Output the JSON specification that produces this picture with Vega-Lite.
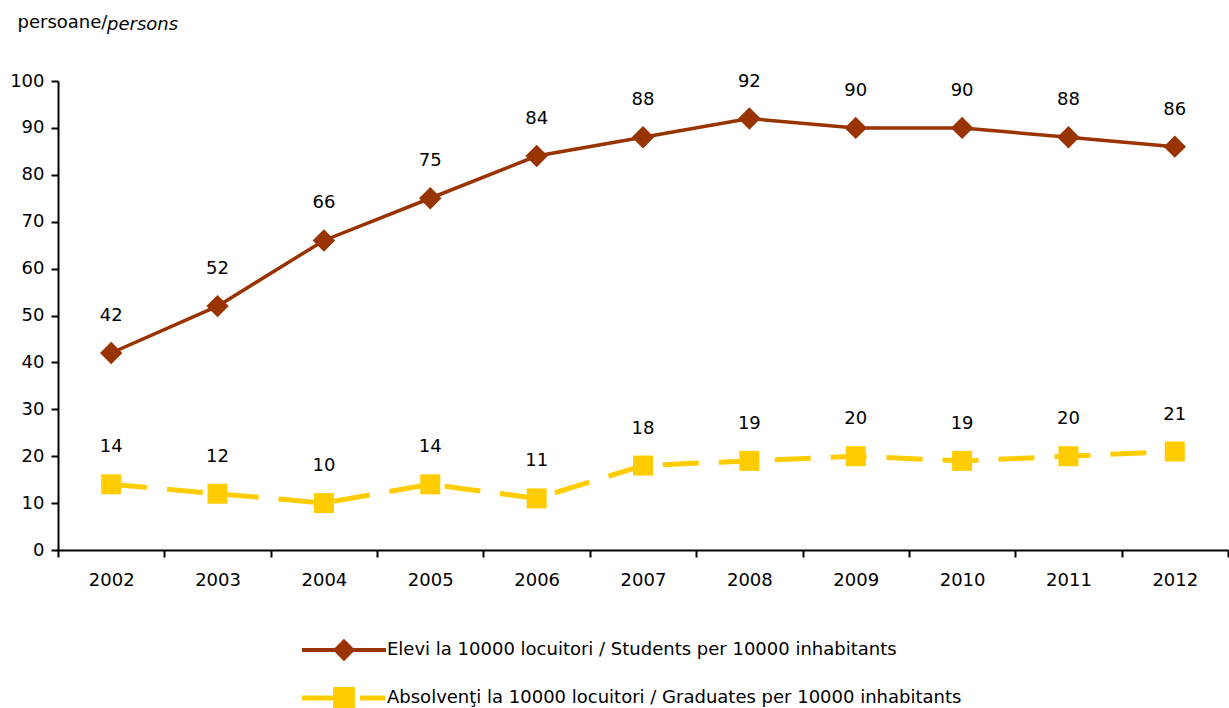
{
  "$schema": "https://vega.github.io/schema/vega-lite/v6.json",
  "width": 1170,
  "height": 469,
  "autosize": "none",
  "padding": {"left": 58, "top": 81, "right": 1, "bottom": 158},
  "background": "white",
  "config": {
    "font": "DejaVu Sans",
    "view": {"stroke": null},
    "axis": {"labelFont": "DejaVu Sans", "labelFontSize": 18, "labelColor": "black", "domainColor": "black", "tickColor": "black", "domainWidth": 2, "tickWidth": 2, "grid": false}
  },
  "title": {"text": "persons", "fontStyle": "italic", "fontWeight": "normal", "fontSize": 18, "font": "DejaVu Sans", "anchor": "start", "frame": "group", "dx": 49, "offset": 0, "dy": 35, "baseline": "alphabetic", "color": "black"},
  "data": {
    "values": [
      {"year": "2002", "series": "Elevi la 10000 locuitori / Students per 10000 inhabitants", "value": 42},
      {"year": "2003", "series": "Elevi la 10000 locuitori / Students per 10000 inhabitants", "value": 52},
      {"year": "2004", "series": "Elevi la 10000 locuitori / Students per 10000 inhabitants", "value": 66},
      {"year": "2005", "series": "Elevi la 10000 locuitori / Students per 10000 inhabitants", "value": 75},
      {"year": "2006", "series": "Elevi la 10000 locuitori / Students per 10000 inhabitants", "value": 84},
      {"year": "2007", "series": "Elevi la 10000 locuitori / Students per 10000 inhabitants", "value": 88},
      {"year": "2008", "series": "Elevi la 10000 locuitori / Students per 10000 inhabitants", "value": 92},
      {"year": "2009", "series": "Elevi la 10000 locuitori / Students per 10000 inhabitants", "value": 90},
      {"year": "2010", "series": "Elevi la 10000 locuitori / Students per 10000 inhabitants", "value": 90},
      {"year": "2011", "series": "Elevi la 10000 locuitori / Students per 10000 inhabitants", "value": 88},
      {"year": "2012", "series": "Elevi la 10000 locuitori / Students per 10000 inhabitants", "value": 86},
      {"year": "2002", "series": "Absolvenţi la 10000 locuitori / Graduates per 10000 inhabitants", "value": 14},
      {"year": "2003", "series": "Absolvenţi la 10000 locuitori / Graduates per 10000 inhabitants", "value": 12},
      {"year": "2004", "series": "Absolvenţi la 10000 locuitori / Graduates per 10000 inhabitants", "value": 10},
      {"year": "2005", "series": "Absolvenţi la 10000 locuitori / Graduates per 10000 inhabitants", "value": 14},
      {"year": "2006", "series": "Absolvenţi la 10000 locuitori / Graduates per 10000 inhabitants", "value": 11},
      {"year": "2007", "series": "Absolvenţi la 10000 locuitori / Graduates per 10000 inhabitants", "value": 18},
      {"year": "2008", "series": "Absolvenţi la 10000 locuitori / Graduates per 10000 inhabitants", "value": 19},
      {"year": "2009", "series": "Absolvenţi la 10000 locuitori / Graduates per 10000 inhabitants", "value": 20},
      {"year": "2010", "series": "Absolvenţi la 10000 locuitori / Graduates per 10000 inhabitants", "value": 19},
      {"year": "2011", "series": "Absolvenţi la 10000 locuitori / Graduates per 10000 inhabitants", "value": 20},
      {"year": "2012", "series": "Absolvenţi la 10000 locuitori / Graduates per 10000 inhabitants", "value": 21}
    ]
  },
  "encoding": {
    "x": {
      "field": "year", "type": "ordinal",
      "scale": {"type": "band", "paddingInner": 0, "paddingOuter": 0},
      "axis": {"title": null, "labelAngle": 0, "tickBand": "extent", "tickSize": 7, "labelPadding": 14, "domainWidth": 2}
    },
    "y": {
      "field": "value", "type": "quantitative",
      "scale": {"domain": [0, 100], "nice": false},
      "axis": {"values": [0, 10, 20, 30, 40, 50, 60, 70, 80, 90, 100], "tickSize": 7, "labelPadding": 7,
        "title": "persoane/", "titleAngle": 0, "titleX": -41, "titleY": -54, "titleAlign": "left", "titleBaseline": "alphabetic",
        "titleFontWeight": "normal", "titleFontSize": 18, "titleFont": "DejaVu Sans", "titleColor": "black"}
    }
  },
  "layer": [
    {
      "transform": [{"filter": "datum.series === 'Elevi la 10000 locuitori / Students per 10000 inhabitants'"}],
      "mark": {"type": "line", "strokeWidth": 3.5},
      "encoding": {
        "color": {
          "field": "series", "type": "nominal",
          "scale": {
            "domain": ["Elevi la 10000 locuitori / Students per 10000 inhabitants", "Absolvenţi la 10000 locuitori / Graduates per 10000 inhabitants"],
            "range": ["#993300", "#FFCC00"]
          },
          "legend": {
            "orient": "none", "legendX": 245, "legendY": 560, "direction": "vertical", "title": null,
            "symbolSize": 400, "symbolOffset": 32, "labelOffset": 34, "rowPadding": 12,
            "labelFontSize": 18, "labelFont": "DejaVu Sans", "labelColor": "black", "labelLimit": 0,
            "encode": {
              "symbols": {
                "update": {
                  "size": {"value": 7056},
                  "shape": {"signal": "datum.index === 0 ? 'M-1,0H1M0,-0.2L0.2,0L0,0.2L-0.2,0Z' : 'M-1,0H-0.2M-0.2,-0.2H0.2V0.2H-0.2ZM0.38,0H0.98'"},
                  "fill": {"signal": "datum.index === 0 ? '#993300' : '#FFCC00'"},
                  "stroke": {"signal": "datum.index === 0 ? '#993300' : '#FFCC00'"},
                  "strokeWidth": {"signal": "datum.index === 0 ? 4 : 5"},
                  "opacity": {"value": 1},
                  "fillOpacity": {"value": 1},
                  "strokeOpacity": {"value": 1},
                  "strokeDash": {"value": [1, 0]}
                }
              }
            }
          }
        }
      }
    },
    {
      "transform": [{"filter": "datum.series !== 'Elevi la 10000 locuitori / Students per 10000 inhabitants'"}],
      "mark": {"type": "line", "strokeWidth": 5, "strokeDash": [36, 20]},
      "encoding": {"color": {"field": "series", "type": "nominal"}}
    },
    {
      "transform": [{"filter": "datum.series === 'Elevi la 10000 locuitori / Students per 10000 inhabitants'"}],
      "mark": {"type": "point", "shape": "diamond", "filled": true, "opacity": 1, "size": 500, "color": "#993300"}
    },
    {
      "transform": [{"filter": "datum.series !== 'Elevi la 10000 locuitori / Students per 10000 inhabitants'"}],
      "mark": {"type": "point", "shape": "square", "filled": true, "opacity": 1, "size": 400, "color": "#FFCC00"}
    },
    {
      "mark": {"type": "text", "dy": -37, "fontSize": 18, "font": "DejaVu Sans", "color": "black", "baseline": "middle"},
      "encoding": {"text": {"field": "value", "type": "quantitative"}}
    }
  ]
}
